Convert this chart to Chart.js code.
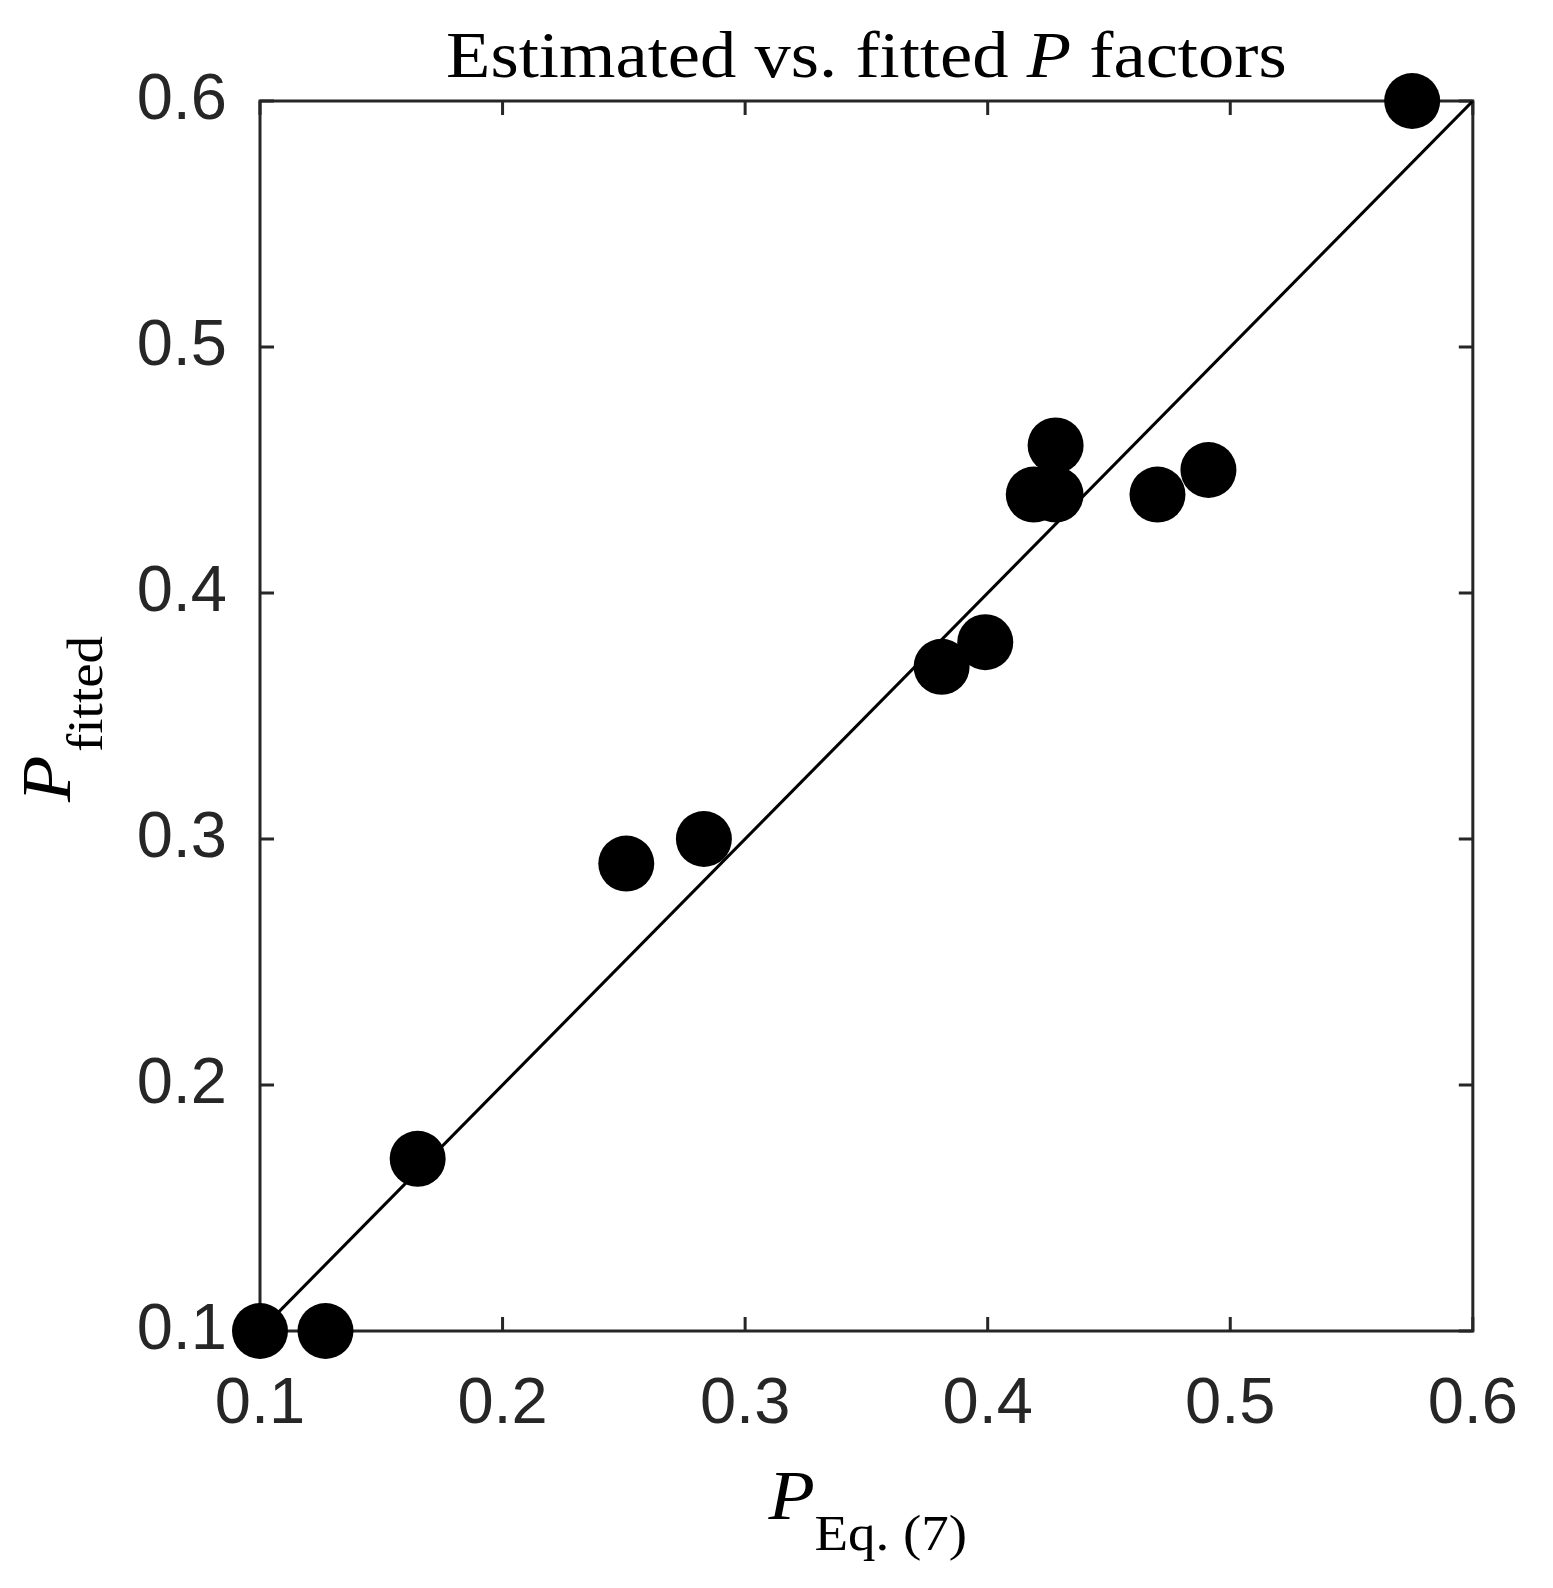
<!DOCTYPE html>
<html>
<head>
<meta charset="utf-8">
<script src="https://cdn.jsdelivr.net/npm/chart.js@4.4.1/dist/chart.umd.min.js"></script>
<style>
	body { margin: 0; background: #fff; }
	#wrap { width: 1553px; height: 1588px; }
</style>
</head>
<body>
<div id="wrap"><canvas id="myChart" width="1553" height="1588"></canvas></div>
<script>
// data
var pEq = [0.100, 0.127, 0.165, 0.251, 0.283, 0.381, 0.399, 0.419, 0.428, 0.428, 0.470, 0.491, 0.575];
var pFitted = [0.10, 0.10, 0.17, 0.29, 0.30, 0.37, 0.38, 0.44, 0.44, 0.46, 0.44, 0.45, 0.60];
// 1:1 reference line
var lineX = [0.1, 0.6];
var lineY = [0.1, 0.6];
// ticks
var tickValues = [0.1, 0.2, 0.3, 0.4, 0.5, 0.6];
var tickLabels = ['0.1', '0.2', '0.3', '0.4', '0.5', '0.6'];

var ink = '#262626';
var serif = '"Liberation Serif", "DejaVu Serif", serif';
var stretch = 1.10; // Times is narrower than the Palatino of the original

function setTicks(scale) {
	scale.ticks = tickValues.map(function (v) { return { value: v }; });
}

// write text a bit wider, starting at x,y
function wideText(c, font, txt, x, y) {
	c.save();
	c.font = font;
	c.translate(x, y);
	c.scale(stretch, 1);
	c.fillText(txt, 0, 0);
	c.restore();
	c.font = font;
	return c.measureText(txt).width * stretch;
}

// box round the plot with inward ticks on all four sides
var boxPlugin = {
	id: 'box',
	beforeDatasetsDraw: function (chart) {
		var c = chart.ctx, a = chart.chartArea;
		var xs = chart.scales.x, ys = chart.scales.y;
		var len = 14;
		c.save();
		c.strokeStyle = ink;
		c.lineWidth = 3;
		c.strokeRect(a.left, a.top, a.right - a.left, a.bottom - a.top);
		c.beginPath();
		tickValues.forEach(function (v) {
			var px = xs.getPixelForValue(v);
			c.moveTo(px, a.bottom); c.lineTo(px, a.bottom - len);
			c.moveTo(px, a.top); c.lineTo(px, a.top + len);
			var py = ys.getPixelForValue(v);
			c.moveTo(a.left, py); c.lineTo(a.left + len, py);
			c.moveTo(a.right, py); c.lineTo(a.right - len, py);
		});
		c.stroke();
		c.restore();
	},
	afterDraw: function (chart) {
		var c = chart.ctx, a = chart.chartArea;
		var cx = (a.left + a.right) / 2;
		var cy = (a.top + a.bottom) / 2;
		c.save();
		c.fillStyle = '#000';
		c.textBaseline = 'alphabetic';

		// title with italic P, centred over the plot
		var tF = '66px ' + serif, tI = 'italic 66px ' + serif;
		var parts = [['Estimated vs. fitted ', tF], ['P', tI], [' factors', tF]];
		var total = 0;
		parts.forEach(function (p) { c.font = p[1]; total += c.measureText(p[0]).width * stretch; });
		var tx = cx - total / 2;
		parts.forEach(function (p) { tx += wideText(c, p[1], p[0], tx, 77); });

		// x label: P with subscript Eq. (7)
		var pF = 'italic 69px ' + serif, sF = '50px ' + serif;
		wideText(c, pF, 'P', cx - 98, 1519);
		wideText(c, sF, 'Eq. (7)', cx - 52, 1550);

		// y label, rotated: P with subscript fitted
		c.translate(70, cy + 86);
		c.rotate(-Math.PI / 2);
		wideText(c, pF, 'P', 0, 0);
		wideText(c, sF, 'fitted', 50, 32);
		c.restore();
	}
};

var ctx = document.getElementById('myChart');
var myChart = new Chart(ctx, {
	type: 'scatter',
	data: {
		datasets: [{
			label: 'P',
			data: pEq.map(function (x, i) { return { x: x, y: pFitted[i] }; }),
			backgroundColor: '#000',
			borderWidth: 0,
			pointRadius: 28,
			pointHoverRadius: 28,
			clip: false
		}, {
			type: 'line',
			label: '1:1',
			data: lineX.map(function (x, i) { return { x: x, y: lineY[i] }; }),
			borderColor: '#000',
			borderWidth: 3,
			pointRadius: 0,
			fill: false
		}]
	},
	plugins: [boxPlugin],
	options: {
		responsive: false,
		animation: false,
		devicePixelRatio: 1,
		events: [],
		layout: {
			autoPadding: false,
			padding: { top: 101, right: 62, left: 0, bottom: 0 }
		},
		plugins: {
			legend: { display: false },
			title: { display: false },
			tooltip: { enabled: false }
		},
		scales: {
			x: {
				type: 'linear',
				min: 0.1,
				max: 0.6,
				afterBuildTicks: setTicks,
				afterFit: function (s) { s.height = 257; },
				grid: { display: false, drawTicks: false },
				border: { display: false },
				ticks: {
					padding: 35,
					maxRotation: 0,
					color: ink,
					font: { family: '"Liberation Sans", Arial, sans-serif', size: 65 },
					callback: function (v, i) { return tickLabels[i]; }
				}
			},
			y: {
				type: 'linear',
				min: 0.1,
				max: 0.6,
				afterBuildTicks: setTicks,
				afterFit: function (s) { s.width = 260; },
				grid: { display: false, drawTicks: false },
				border: { display: false },
				ticks: {
					padding: 33,
					color: ink,
					font: { family: '"Liberation Sans", Arial, sans-serif', size: 65 },
					callback: function (v, i) { return tickLabels[i]; }
				}
			}
		}
	}
});
</script>
</body>
</html>
